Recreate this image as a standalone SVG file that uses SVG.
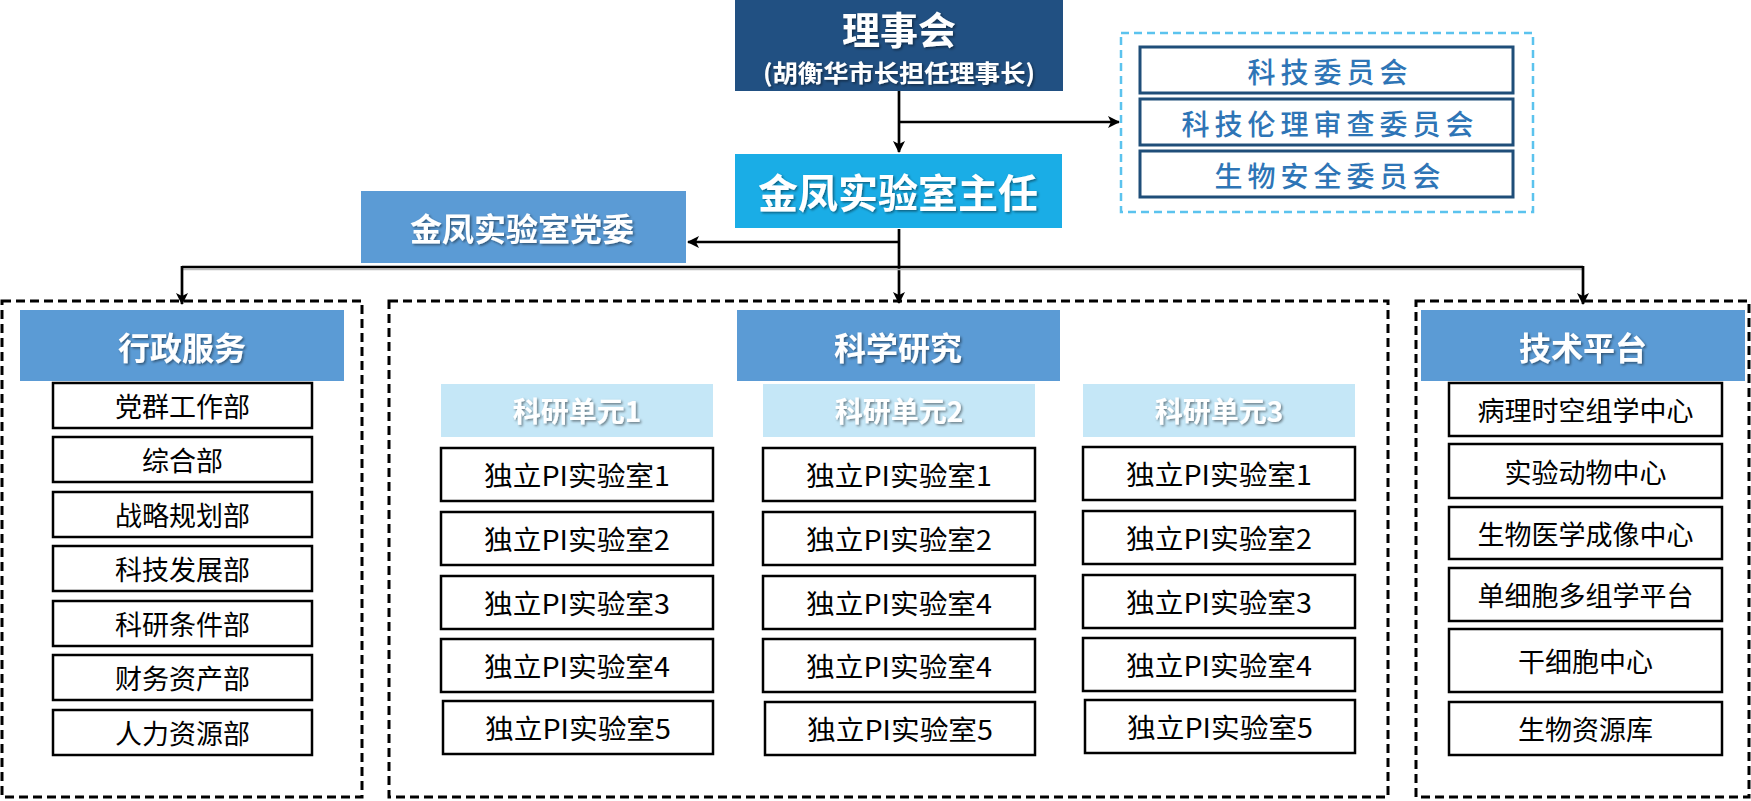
<svg xmlns="http://www.w3.org/2000/svg" width="1751" height="801" viewBox="0 0 1751 801">
<style>
.hd{font-family:"Noto Sans CJK SC",sans-serif;font-weight:bold;fill:#fff;text-anchor:middle;dominant-baseline:central;filter:url(#sh);}
.it{font-family:"Noto Sans CJK SC",sans-serif;font-size:27px;fill:#000;text-anchor:middle;dominant-baseline:central;}
.box{fill:#fff;stroke:#000;stroke-width:2.5;}
.cm{fill:#fff;stroke:#1F4E79;stroke-width:3;}
.cmt{font-family:"Noto Sans CJK SC",sans-serif;font-size:28px;font-weight:500;fill:#2E75B6;text-anchor:middle;dominant-baseline:central;letter-spacing:5px;}
.dash{fill:none;stroke:#000;stroke-width:3;stroke-dasharray:9 5;}
.ln{fill:none;stroke:#000;stroke-width:2.7;}
.b1{fill:#5B9BD5;}
.u{fill:#C5E7F7;}
</style>
<defs>
<filter id="sh" x="-10%" y="-20%" width="120%" height="150%">
<feDropShadow dx="1.5" dy="1.5" stdDeviation="1" flood-color="#000" flood-opacity="0.45"/>
</filter>
<marker id="ar" viewBox="0 0 12 12" refX="11" refY="6" markerWidth="12" markerHeight="12" markerUnits="userSpaceOnUse" orient="auto">
<path d="M0,0 L12,6 L0,12 L3,6 Z" fill="#000"/>
</marker>
</defs>

<g id="connectors">
<line class="ln" x1="899" y1="91" x2="899" y2="152" marker-end="url(#ar)"/>
<line class="ln" x1="899" y1="122" x2="1119" y2="122" marker-end="url(#ar)"/>
<line class="ln" x1="899" y1="229" x2="899" y2="303" marker-end="url(#ar)"/>
<line class="ln" x1="899" y1="242" x2="688" y2="242" marker-end="url(#ar)"/>
<line x1="182" y1="269.5" x2="1583" y2="269.5" stroke="#bbb" stroke-width="1.5"/>
<line class="ln" x1="182" y1="267" x2="1583" y2="267"/>
<line class="ln" x1="182" y1="266" x2="182" y2="304" marker-end="url(#ar)"/>
<line class="ln" x1="1583" y1="266" x2="1583" y2="304" marker-end="url(#ar)"/>
</g>

<g id="board">
<rect x="735" y="0" width="328" height="91" fill="#215082"/>
<text class="hd" x="899" y="27" font-size="38">理事会</text>
<text class="hd" x="899" y="71" font-size="24" textLength="272" lengthAdjust="spacingAndGlyphs">(胡衡华市长担任理事长)</text>
</g>

<g id="committees">
<rect x="1121" y="33" width="412" height="179" fill="none" stroke="#5BC3EE" stroke-width="2.5" stroke-dasharray="8 5"/>
<rect class="cm" x="1140" y="47" width="373" height="46"/>
<text class="cmt" x="1330" y="71">科技委员会</text>
<rect class="cm" x="1140" y="99" width="373" height="46"/>
<text class="cmt" x="1330" y="123">科技伦理审查委员会</text>
<rect class="cm" x="1140" y="151" width="373" height="46"/>
<text class="cmt" x="1330" y="175">生物安全委员会</text>
</g>

<g id="director">
<rect x="735" y="154" width="327" height="74" fill="#1AADE6"/>
<text class="hd" x="898" y="191" font-size="40">金凤实验室主任</text>
</g>

<g id="party">
<rect x="361" y="191" width="325" height="72" fill="#5B9BD5"/>
<text class="hd" x="522" y="227" font-size="32">金凤实验室党委</text>
</g>

<g id="admin">
<rect class="dash" x="2" y="301" width="360" height="496"/>
<rect class="b1" x="20" y="310" width="324" height="71"/>
<text class="hd" x="182" y="346" font-size="32">行政服务</text>
<rect class="box" x="53" y="383" width="259" height="45"/><text class="it" x="182.5" y="405.5">党群工作部</text>
<rect class="box" x="53" y="437" width="259" height="45"/><text class="it" x="182.5" y="459.5">综合部</text>
<rect class="box" x="53" y="492" width="259" height="45"/><text class="it" x="182.5" y="514.5">战略规划部</text>
<rect class="box" x="53" y="546" width="259" height="45"/><text class="it" x="182.5" y="568.5">科技发展部</text>
<rect class="box" x="53" y="601" width="259" height="45"/><text class="it" x="182.5" y="623.5">科研条件部</text>
<rect class="box" x="53" y="655" width="259" height="45"/><text class="it" x="182.5" y="677.5">财务资产部</text>
<rect class="box" x="53" y="710" width="259" height="45"/><text class="it" x="182.5" y="732.5">人力资源部</text>
</g>

<g id="research">
<rect class="dash" x="389" y="301" width="999" height="496"/>
<rect class="b1" x="737" y="310" width="323" height="71"/>
<text class="hd" x="898" y="346" font-size="32">科学研究</text>

<rect class="u" x="441" y="384" width="272" height="53"/>
<text class="hd" x="577" y="410" font-size="28">科研单元1</text>
<rect class="u" x="763" y="384" width="272" height="53"/>
<text class="hd" x="899" y="410" font-size="28">科研单元2</text>
<rect class="u" x="1083" y="384" width="272" height="53"/>
<text class="hd" x="1219" y="410" font-size="28">科研单元3</text>

<rect class="box" x="441" y="448" width="272" height="53"/><text class="it" x="577" y="474.5" textLength="186" lengthAdjust="spacingAndGlyphs">独立PI实验室1</text>
<rect class="box" x="441" y="512" width="272" height="53"/><text class="it" x="577" y="538.5" textLength="186" lengthAdjust="spacingAndGlyphs">独立PI实验室2</text>
<rect class="box" x="441" y="576" width="272" height="53"/><text class="it" x="577" y="602.5" textLength="186" lengthAdjust="spacingAndGlyphs">独立PI实验室3</text>
<rect class="box" x="441" y="639" width="272" height="53"/><text class="it" x="577" y="665.5" textLength="186" lengthAdjust="spacingAndGlyphs">独立PI实验室4</text>
<rect class="box" x="443" y="701" width="270" height="53"/><text class="it" x="578" y="727.5" textLength="186" lengthAdjust="spacingAndGlyphs">独立PI实验室5</text>

<rect class="box" x="763" y="448" width="272" height="53"/><text class="it" x="899" y="474.5" textLength="186" lengthAdjust="spacingAndGlyphs">独立PI实验室1</text>
<rect class="box" x="763" y="512" width="272" height="53"/><text class="it" x="899" y="538.5" textLength="186" lengthAdjust="spacingAndGlyphs">独立PI实验室2</text>
<rect class="box" x="763" y="576" width="272" height="53"/><text class="it" x="899" y="602.5" textLength="186" lengthAdjust="spacingAndGlyphs">独立PI实验室4</text>
<rect class="box" x="763" y="639" width="272" height="53"/><text class="it" x="899" y="665.5" textLength="186" lengthAdjust="spacingAndGlyphs">独立PI实验室4</text>
<rect class="box" x="765" y="702" width="270" height="53"/><text class="it" x="900" y="728.5" textLength="186" lengthAdjust="spacingAndGlyphs">独立PI实验室5</text>

<rect class="box" x="1083" y="447" width="272" height="53"/><text class="it" x="1219" y="473.5" textLength="186" lengthAdjust="spacingAndGlyphs">独立PI实验室1</text>
<rect class="box" x="1083" y="511" width="272" height="53"/><text class="it" x="1219" y="537.5" textLength="186" lengthAdjust="spacingAndGlyphs">独立PI实验室2</text>
<rect class="box" x="1083" y="575" width="272" height="53"/><text class="it" x="1219" y="601.5" textLength="186" lengthAdjust="spacingAndGlyphs">独立PI实验室3</text>
<rect class="box" x="1083" y="638" width="272" height="53"/><text class="it" x="1219" y="664.5" textLength="186" lengthAdjust="spacingAndGlyphs">独立PI实验室4</text>
<rect class="box" x="1085" y="700" width="270" height="53"/><text class="it" x="1220" y="726.5" textLength="186" lengthAdjust="spacingAndGlyphs">独立PI实验室5</text>
</g>

<g id="tech">
<rect class="dash" x="1416" y="301" width="333" height="496"/>
<rect class="b1" x="1421" y="310" width="324" height="71"/>
<text class="hd" x="1583" y="346" font-size="32">技术平台</text>
<rect class="box" x="1449" y="383" width="273" height="53"/><text class="it" x="1585.5" y="409.5">病理时空组学中心</text>
<rect class="box" x="1449" y="444" width="273" height="54"/><text class="it" x="1585.5" y="471">实验动物中心</text>
<rect class="box" x="1449" y="507" width="273" height="52"/><text class="it" x="1585.5" y="533">生物医学成像中心</text>
<rect class="box" x="1449" y="568" width="273" height="53"/><text class="it" x="1585.5" y="594.5">单细胞多组学平台</text>
<rect class="box" x="1449" y="629" width="273" height="63"/><text class="it" x="1585.5" y="660.5">干细胞中心</text>
<rect class="box" x="1449" y="702" width="273" height="53"/><text class="it" x="1585.5" y="728.5">生物资源库</text>
</g>
</svg>
